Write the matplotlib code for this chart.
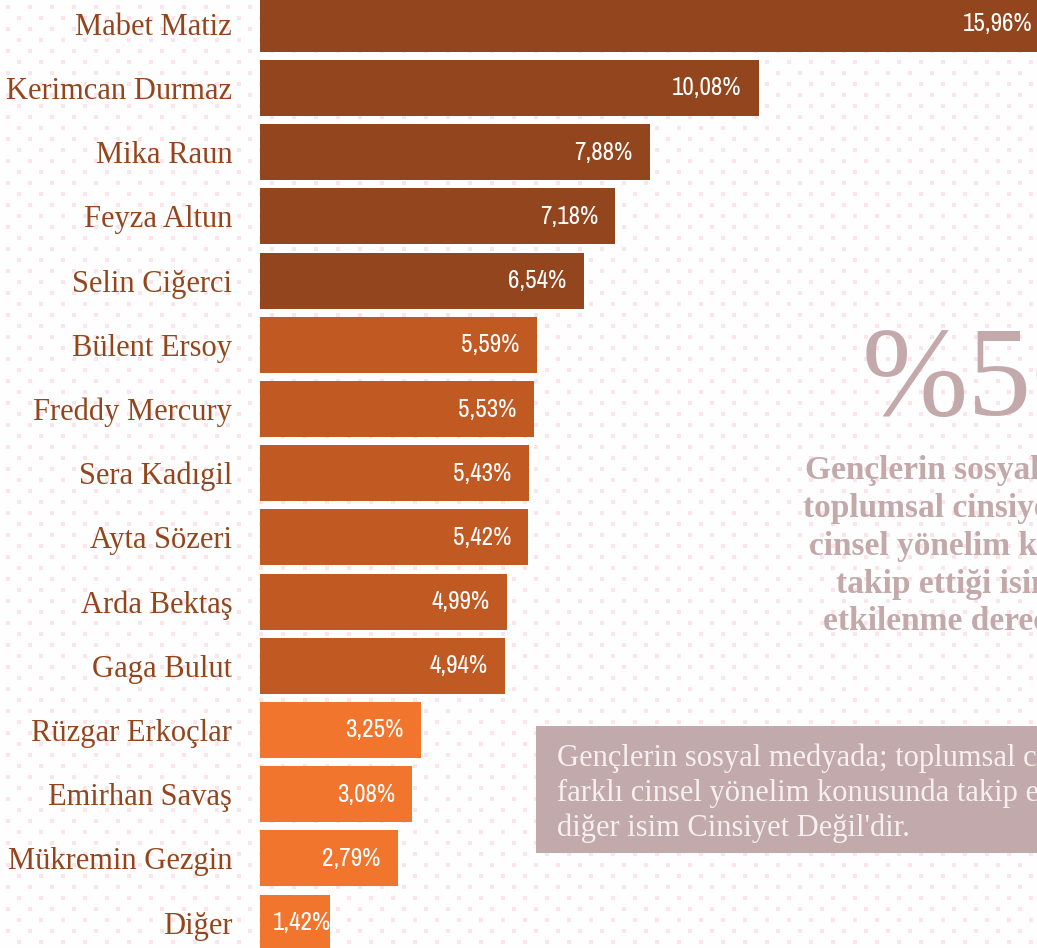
import numpy as np
import matplotlib.pyplot as plt
from matplotlib import font_manager
from matplotlib.patches import Rectangle

names = ['Mabet Matiz', 'Kerimcan Durmaz', 'Mika Raun', 'Feyza Altun', 'Selin Ciğerci',
         'Bülent Ersoy', 'Freddy Mercury', 'Sera Kadıgil', 'Ayta Sözeri', 'Arda Bektaş',
         'Gaga Bulut', 'Rüzgar Erkoçlar', 'Emirhan Savaş', 'Mükremin Gezgin', 'Diğer']
shares = [15.96, 10.08, 7.88, 7.18, 6.54, 5.59, 5.53, 5.43, 5.42, 4.99,
          4.94, 3.25, 3.08, 2.79, 1.42]
group_sizes = [5, 6, 4]
group_colors = ['#93461e', '#c05a22', '#f2752e']

big_number = '%56'
headline = ['Gençlerin sosyal medyada;', 'toplumsal cinsiyet ve farklı',
            'cinsel yönelim konusunda', 'takip ettiği isimlerden', 'etkilenme derecesi']
note = ['Gençlerin sosyal medyada; toplumsal cinsiyet ve',
        'farklı cinsel yönelim konusunda takip ettiği',
        "diğer isim Cinsiyet Değil'dir."]

W, H = 1037, 948
text_col = '#93461e'
muted = '#c4a9ab'

fonts = font_manager.fontManager.ttflist
available = {f.name for f in fonts}
narrow = [f.name for f in fonts
          if f.stretch not in ('normal', 500, 'semi-expanded', 'expanded')
          and f.weight in ('normal', 'regular', 400, 'book')
          and 'Mono' not in f.name and 'Serif' not in f.name]
if narrow:
    value_font = dict(family=sorted(narrow)[0], stretch='condensed')
    value_size = 18
else:
    value_font = dict(family='DejaVu Sans')
    value_size = 13.5
serif = 'Liberation Serif' if 'Liberation Serif' in available else 'DejaVu Serif'

fig = plt.figure(figsize=(W / 100, H / 100), dpi=100, facecolor='#fefefe')

# background in pixel coordinates: dotted pattern, note box, texts
bg = fig.add_axes([0, 0, 1, 1])
bg.set_xlim(0, W)
bg.set_ylim(H, 0)
bg.axis('off')
dx, dy = np.meshgrid(np.arange(8, W, 22), np.arange(7, H, 22))
bg.scatter(dx.ravel(), dy.ravel(), marker='s', s=5, color='#fce5ea', linewidths=0, zorder=0)
bg.scatter(dx.ravel() + 11, dy.ravel() + 11, marker='s', s=5, color='#fce5ea', linewidths=0, zorder=0)

bg.text(862, 415, big_number, fontsize=92, family=serif, color=muted, ha='left', va='baseline')
line_x = [805, 803, 809, 836, 823]
for i, line in enumerate(headline):
    bg.text(line_x[i], 470 + 38 * i, line, fontsize=24, family=serif, weight='bold',
            color=muted, ha='left', va='center')

bg.add_patch(Rectangle((536, 726), 600, 127, facecolor='#c2a9ab', edgecolor='none', zorder=2))
for i, line in enumerate(note):
    bg.text(557, 758 + 35 * i, line, fontsize=22, family=serif, color='#f7f0f0',
            ha='left', va='center', zorder=3)

# bar chart
x0 = 260
px_per_pct = 49.5
pitch = 64.2
first_center = 23.8
ax = fig.add_axes([x0 / W, 0, (W - x0) / W, 1])
ax.patch.set_alpha(0)
ax.set_xlim(0, (W - x0) / px_per_pct)
ax.set_ylim((H - first_center) / pitch, -first_center / pitch)

colors = []
for n, c in zip(group_sizes, group_colors):
    colors += [c] * n
y = np.arange(len(names))
ax.barh(y, shares, height=56 / pitch, color=colors, edgecolor='none')

for yi, v in zip(y, shares):
    label = f'{v:.2f}'.replace('.', ',') + '%'
    if v < 2:
        # short bar: label starts from the bar's left edge
        ax.annotate(label, (0, yi), xytext=(9, 0), textcoords='offset points',
                    ha='left', va='center', color='white', fontsize=value_size, **value_font)
    else:
        ax.annotate(label, (v, yi), xytext=(-12.5, 0), textcoords='offset points',
                    ha='right', va='center', annotation_clip=False,
                    color='white', fontsize=value_size, **value_font)

ax.set_yticks(y)
ax.set_yticklabels(names, family=serif, fontsize=22, color=text_col)
ax.tick_params(axis='y', length=0, pad=20)
ax.set_xticks([])
for s in ax.spines.values():
    s.set_visible(False)

fig.savefig('out.png', dpi=100, facecolor=fig.get_facecolor())
